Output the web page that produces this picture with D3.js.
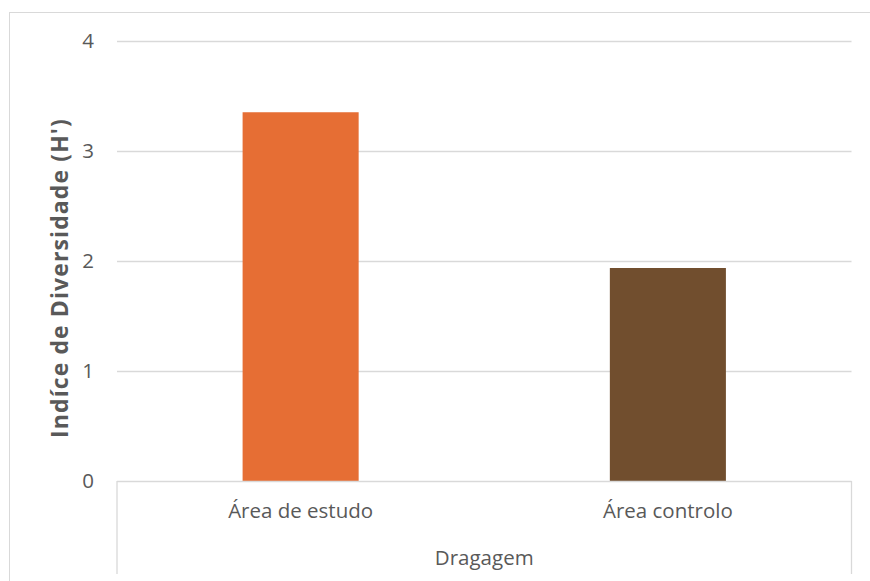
<!DOCTYPE html>
<html>
<head>
<meta charset="utf-8">
<script src="https://cdn.jsdelivr.net/npm/d3@7/dist/d3.min.js"></script>
<style>
  html, body { margin: 0; padding: 0; background: #fff; }
  svg { display: block; }
  text { font-family: "Open Sans", "DejaVu Sans", sans-serif; fill: #595959; }
</style>
</head>
<body>
<svg id="chart" width="870" height="581"></svg>
<script>
// Diversity index per dredging area
const categories = ["Área de estudo", "Área controlo"];
const values = [3.35, 1.935];
const barColors = ["#E66E34", "#714E2E"];
const yTicks = [0, 1, 2, 3, 4];
const groupLabel = "Dragagem";
const yTitle = "Indíce de Diversidade (H')";

const svg = d3.select("#chart");
const W = 870, H = 581;
const plot = { left: 117, right: 851.5, top: 40.7, bottom: 481 };

// outer chart frame
svg.append("rect")
  .attr("x", 9.5).attr("y", 12.5)
  .attr("width", W).attr("height", H)
  .attr("fill", "none").attr("stroke", "#d9d9d9").attr("stroke-width", 1);

const y = d3.scaleLinear().domain([0, 4]).range([plot.bottom, plot.top]);
const x = d3.scaleBand().domain(categories)
  .range([plot.left, plot.right])
  .paddingInner(0.684).paddingOuter(0.342);

// horizontal gridlines
svg.append("g")
  .selectAll("line")
  .data(yTicks.filter(d => d > 0))
  .join("line")
  .attr("x1", plot.left).attr("x2", plot.right)
  .attr("y1", d => Math.round(y(d)) + 0.5).attr("y2", d => Math.round(y(d)) + 0.5)
  .attr("stroke", "#d9d9d9").attr("stroke-width", 1.3);

// bars
svg.append("g")
  .selectAll("rect")
  .data(categories)
  .join("rect")
  .attr("x", d => x(d))
  .attr("width", x.bandwidth())
  .attr("y", (d, i) => y(values[i]))
  .attr("height", (d, i) => y(0) - y(values[i]))
  .attr("fill", (d, i) => barColors[i]);

// y axis tick labels
const yAxis = d3.axisLeft(y).tickValues(yTicks).tickSize(0).tickPadding(0).tickFormat(d3.format("d"));
const gy = svg.append("g").attr("transform", "translate(94,0)").call(yAxis);
gy.select(".domain").remove();
gy.selectAll("text")
  .attr("font-size", 20.5)
  .attr("fill", "#595959")
  .style("font-family", "'Open Sans', sans-serif");

// category axis: baseline and outer dividers
const axisColor = "#d9d9d9";
svg.append("line")
  .attr("x1", plot.left).attr("x2", plot.right)
  .attr("y1", 481.5).attr("y2", 481.5)
  .attr("stroke", axisColor).attr("stroke-width", 1.3);
[plot.left, plot.right].forEach(px => {
  svg.append("line")
    .attr("x1", px).attr("x2", px)
    .attr("y1", 481).attr("y2", 574)
    .attr("stroke", axisColor).attr("stroke-width", 1.3);
});

// category labels
const xAxis = d3.axisBottom(x).tickSize(0).tickPadding(0);
const gx = svg.append("g").attr("transform", "translate(0,500)").call(xAxis);
gx.select(".domain").remove();
gx.selectAll("text")
  .attr("dy", null).attr("y", 18)
  .attr("font-size", 20.5)
  .attr("fill", "#595959")
  .style("font-family", "'Open Sans', sans-serif");

// group label
svg.append("text")
  .attr("x", (plot.left + plot.right) / 2)
  .attr("y", 565)
  .attr("text-anchor", "middle")
  .attr("font-size", 20.5)
  .text(groupLabel);

// y axis title
svg.append("text")
  .attr("transform", "translate(67.5,278) rotate(-90)")
  .attr("text-anchor", "middle")
  .attr("font-size", 23)
  .attr("font-weight", "bold")
  .attr("letter-spacing", 1.1)
  .text(yTitle);
</script>
</body>
</html>
